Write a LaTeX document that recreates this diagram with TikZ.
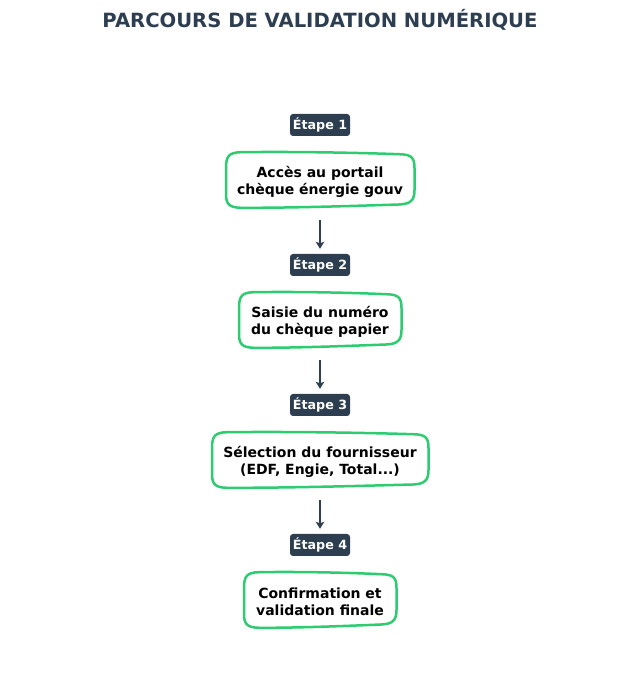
\documentclass[tikz,border=0pt]{standalone}
\usepackage{fontspec}
\setmainfont{DejaVu Sans}
\usetikzlibrary{arrows.meta,calc}
\definecolor{dark}{HTML}{2C3E50}
\definecolor{green}{HTML}{2ECC71}
\tikzset{
  badge/.style={fill=dark, rounded corners=3pt, text=white, font=\bfseries\fontsize{12.7}{14}\selectfont, minimum width=60pt, minimum height=22pt, inner sep=0pt, text height=10pt, text depth=1pt},
  stepbox/.style={font=\bfseries\fontsize{14}{17}\selectfont, align=center, minimum height=56pt, inner sep=0pt, text=black},
  boxline/.style={draw=green, line width=2.5pt, fill=white},
  arr/.style={draw=dark, line width=2.4pt, -{Stealth[length=7pt,width=8.5pt,inset=1.5pt]}, shorten <=12pt, shorten >=5pt},
  titlestyle/.style={font=\bfseries\fontsize{19.6}{22}\selectfont, text=dark}
}
\newcommand\wobbly[2]{%
  \begin{scope}[shift={(#1.center)}]
  \draw[boxline] (-#2,12) .. controls (-#2,24) and (-#2+3,27.5) .. (-#2+15,27.8)
    .. controls (-#2/3,28.5) and (#2/3,27.5) .. (#2-15,25.8)
    .. controls (#2-3,25.5) and (#2+0.5,23) .. (#2+0.5,12)
    -- (#2+0.5,-10)
    .. controls (#2+0.5,-20) and (#2-3,-24) .. (#2-15,-24.5)
    .. controls (#2/3,-26) and (-#2/3,-28) .. (-#2+15,-27.8)
    .. controls (-#2+3,-27.5) and (-#2,-24) .. (-#2,-14)
    -- cycle;
  \end{scope}}
\begin{document}
\begin{tikzpicture}[x=1pt,y=1pt]
\useasboundingbox (0,0) rectangle (640,694);
\node[titlestyle, anchor=base] (title) at (320,666) {PARCOURS DE VALIDATION NUMÉRIQUE};

\node[badge] (e1) at (320,569) {Étape 1};
\node[stepbox, minimum width=188pt] (b1) at (320,514) {\phantom{X}};
\node[badge] (e2) at (320,429) {Étape 2};
\node[stepbox, minimum width=162pt] (b2) at (320,374) {\phantom{X}};
\node[badge] (e3) at (320,289) {Étape 3};
\node[stepbox, minimum width=216pt] (b3) at (320,234) {\phantom{X}};
\node[badge] (e4) at (320,149) {Étape 4};
\node[stepbox, minimum width=152pt] (b4) at (320,94) {\phantom{X}};

\wobbly{b1}{94}
\wobbly{b2}{81}
\wobbly{b3}{108}
\wobbly{b4}{76}

\node[stepbox] (t1) at ([yshift=-1.5pt]b1.center) {Accès au portail\\chèque énergie gouv};
\node[stepbox] (t2) at ([yshift=-1.5pt]b2.center) {Saisie du numéro\\du chèque papier};
\node[stepbox] (t3) at ([yshift=-1.5pt]b3.center) {Sélection du fournisseur\\(EDF, Engie, Total...)};
\node[stepbox] (t4) at ([yshift=-1.5pt]b4.center) {Confirmation et\\validation finale};

\draw[arr] (b1.south) -- (e2.north);
\draw[arr] (b2.south) -- (e3.north);
\draw[arr] (b3.south) -- (e4.north);
\end{tikzpicture}
\end{document}
